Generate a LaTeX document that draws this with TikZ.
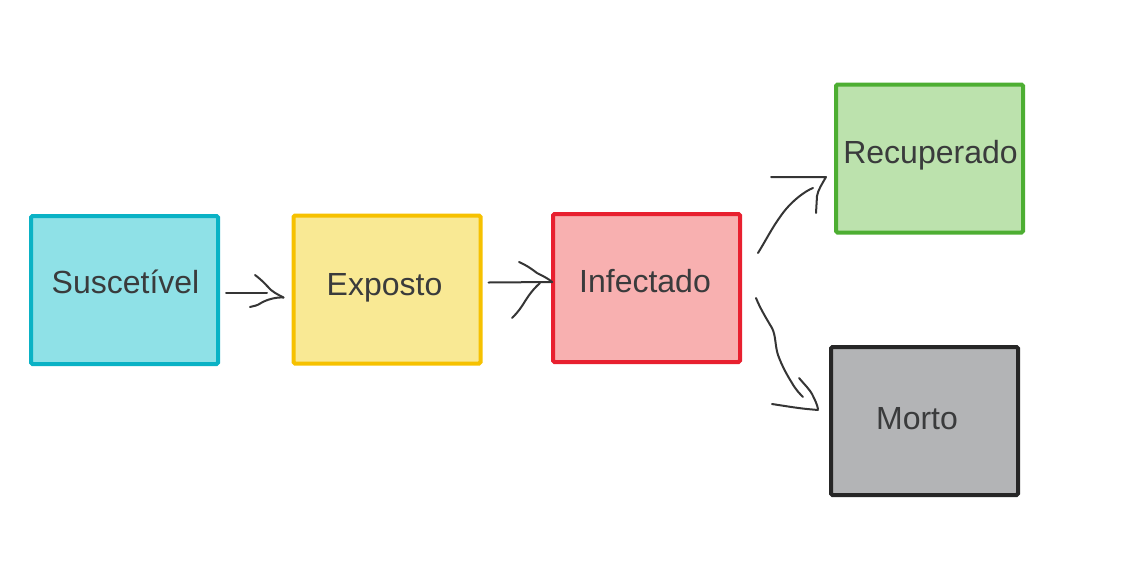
\documentclass[tikz,border=0pt]{standalone}
\usepackage{fontspec}
\setmainfont{Liberation Sans}
\usetikzlibrary{calc}
\definecolor{cyanfill}{HTML}{8FE1E7}
\definecolor{cyanline}{HTML}{0AB2C5}
\definecolor{yelfill}{HTML}{F9E994}
\definecolor{yelline}{HTML}{F6C100}
\definecolor{redfill}{HTML}{F8B0B0}
\definecolor{redline}{HTML}{E8202F}
\definecolor{grnfill}{HTML}{BCE2AD}
\definecolor{grnline}{HTML}{4DAE32}
\definecolor{gryfill}{HTML}{B3B4B6}
\definecolor{gryline}{HTML}{262626}
\definecolor{txt}{HTML}{3A3B3C}
\definecolor{ink}{HTML}{353535}
\begin{document}
\begin{tikzpicture}[x=1pt,y=-1pt,
  box/.style={draw,line width=4pt,rounded corners=1.5pt,minimum width=187pt,minimum height=148pt,inner sep=0pt},
  lbl/.style={anchor=base,text=txt,font=\fontsize{32pt}{38pt}\selectfont,inner sep=0pt},
  hand/.style={draw=ink,line width=2pt,line cap=round,line join=round}]
\useasboundingbox (0,0) rectangle (1126,571);
\node[box,fill=cyanfill,draw=cyanline] (sus) at (124.5,290) {};
\node[box,fill=yelfill,draw=yelline] (exp) at (387,289.5) {};
\node[box,fill=redfill,draw=redline] (inf) at (646.5,288) {};
\node[box,fill=grnfill,draw=grnline] (rec) at (929.5,158.5) {};
\node[box,fill=gryfill,draw=gryline] (mor) at (924.5,421) {};
\node[lbl] (tsus) at (125.5,293) {Suscetível};
\node[lbl] (texp) at (384.5,295.5) {Exposto};
\node[lbl] (tinf) at (645,292) {Infectado};
\node[lbl] (trec) at (930.5,163.5) {Recuperado};
\node[lbl] (tmor) at (917,429) {Morto};
% arrow 1: Suscetivel -> Exposto
\coordinate (a1s) at ($(sus.east)+(6,3)$);
\coordinate (a1t) at ($(exp.west)+(-8,8)$);
\draw[hand] (a1s) -- ++(41,0);
\draw[hand] (255,275) .. controls (263,281) and (266,285) .. (271,290) .. controls (276,294) and (281,296) .. (a1t);
\draw[hand] (a1t) .. controls (275,297) and (266,300) .. (261,303) .. controls (257,306) and (253,306) .. (250,307);
% arrow 2: Exposto -> Infectado
\coordinate (a2s) at ($(exp.east)+(6,-7)$);
\coordinate (a2t) at ($(inf.west)+(1,-6)$);
\draw[hand] (a2s) -- (a2t);
\draw[hand] (519,262) .. controls (528,266) and (533,270) .. (537,273) .. controls (543,276) and (549,279) .. (a2t);
\draw[hand] (540,283) .. controls (530,292) and (526,300) .. (522,306) .. controls (518,312) and (515,315) .. (512,318);
% arrow 3: Infectado -> Recuperado
\coordinate (a3s) at ($(inf.east)+(16,-35)$);
\draw[hand] (a3s) .. controls (766,240) and (772,228) .. (780,217) .. controls (790,202) and (805,191) .. (813,188);
\draw[hand] (771,177) -- (826,177) .. controls (822,184) and (818,190) .. (817,196) -- (816,213);
% arrow 4: Infectado -> Morto
\coordinate (a4s) at ($(inf.east)+(14,10)$);
\draw[hand] (a4s) .. controls (760,308) and (766,318) .. (772,328) .. controls (776,336) and (775,346) .. (778,355) .. controls (782,366) and (787,375) .. (792,383) .. controls (796,390) and (800,394) .. (803,397);
\draw[hand] (799,378) .. controls (805,385) and (810,390) .. (812,394) .. controls (815,400) and (817,404) .. (818,409);
\draw[hand] (772,404) .. controls (785,406) and (797,408) .. (807,409) -- (818,410);
\end{tikzpicture}
\end{document}
